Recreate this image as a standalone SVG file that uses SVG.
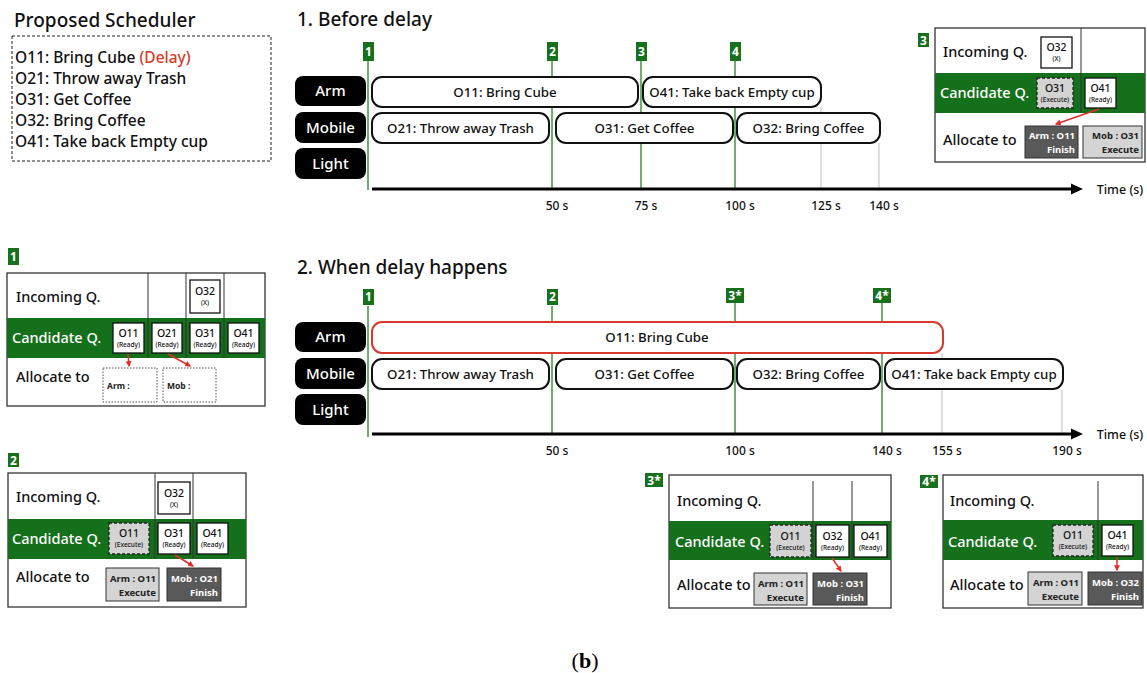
<svg xmlns="http://www.w3.org/2000/svg" width="1147" height="673" viewBox="0 0 1147 673">
<defs>
<style>
text{font-family:"Noto Sans","Liberation Sans",sans-serif;font-weight:500}
.t{font-size:19px;fill:#111}
.li{font-size:15.5px;fill:#111}
.lab rect{fill:#000}
.lab text{fill:#fff;font-size:15px;text-anchor:middle}
.task{fill:#fff;stroke:#111;stroke-width:2}
.delay{fill:#fff;stroke:#d9392c;stroke-width:2}
.tt{font-size:13.3px;text-anchor:middle;fill:#111}
.mk rect{fill:#16701c}
.mk text{fill:#fff;font-size:12px;font-weight:bold;text-anchor:middle}
.vl{stroke:#4b9a4b;stroke-width:1.6}
.gl{stroke:#bdbdbd;stroke-width:1}
.tick{font-size:12px;text-anchor:middle;fill:#111}
.pbox{fill:#fff;stroke:#333;stroke-width:1.3}
.band{fill:#15701b}
.ql{font-size:14.5px;fill:#111}
.qw{font-size:14.5px;fill:#fff}
.sep{stroke:#333;stroke-width:1}
.ob{fill:#fff;stroke:#111;stroke-width:1.3}
.oe{fill:#d3d3d3;stroke:#222;stroke-width:1.3;stroke-dasharray:3 2}
.on{font-size:10.5px;text-anchor:middle;fill:#111}
.os{font-size:6.5px;text-anchor:middle;fill:#111}
.dk{fill:#595959;stroke:#333;stroke-width:1}
.lt{fill:#d4d4d4;stroke:#333;stroke-width:1}
.aw{font-size:9.5px;font-weight:bold;text-anchor:end;fill:#fff}
.ad{font-size:9.5px;font-weight:bold;text-anchor:end;fill:#222}
.dots{fill:#fff;stroke:#555;stroke-width:1;stroke-dasharray:1.5 1.5}
.dl{font-size:8.5px;font-weight:bold;fill:#222}
.ra{stroke:#e0302a;stroke-width:1.5;fill:none;marker-end:url(#rh)}
.axis{stroke:#000;stroke-width:3}
</style>
<marker id="rh" viewBox="0 0 10 10" refX="8" refY="5" markerWidth="4" markerHeight="4" orient="auto">
<path d="M0,0 L10,5 L0,10 z" fill="#e0302a"/>
</marker>
</defs>
<rect width="1147" height="673" fill="#fff"/>

<!-- task list -->
<g id="scheduler">
<text class="t" x="14" y="27">Proposed Scheduler</text>
<rect x="12" y="36" width="259" height="125" fill="none" stroke="#222" stroke-width="1" stroke-dasharray="3 2"/>
<text class="li" x="15" y="63">O11: Bring Cube <tspan fill="#d9392c">(Delay)</tspan></text>
<text class="li" x="15" y="84">O21: Throw away Trash</text>
<text class="li" x="15" y="105">O31: Get Coffee</text>
<text class="li" x="15" y="126">O32: Bring Coffee</text>
<text class="li" x="15" y="147">O41: Take back Empty cup</text>
</g>

<!-- schedule 1: before delay -->
<g id="timeline-before">
<text class="t" x="297" y="26">1. Before delay</text>
<line class="gl" x1="821" y1="107" x2="821" y2="189"/>
<line class="gl" x1="879" y1="143" x2="879" y2="189"/>
<line class="vl" x1="368" y1="61" x2="368" y2="190"/>
<line class="vl" x1="552" y1="61" x2="552" y2="189"/>
<line class="vl" x1="641" y1="61" x2="641" y2="189"/>
<line class="vl" x1="735" y1="61" x2="735" y2="189"/>
<g class="mk">
<rect x="363" y="42" width="11" height="19"/><text x="368.5" y="56">1</text>
<rect x="547" y="42" width="11" height="19"/><text x="552.5" y="56">2</text>
<rect x="636" y="42" width="11" height="19"/><text x="641.5" y="56">3</text>
<rect x="730" y="42" width="11" height="19"/><text x="735.5" y="56">4</text>
</g>
<g class="lab">
<rect x="295" y="76" width="71" height="30" rx="8"/><text x="330.5" y="96">Arm</text>
<rect x="295" y="112" width="71" height="31" rx="8"/><text x="330.5" y="133">Mobile</text>
<rect x="295" y="148" width="71" height="31" rx="8"/><text x="330.5" y="169">Light</text>
</g>
<rect class="task" x="372" y="77" width="266" height="30" rx="10"/><text class="tt" x="505" y="97">O11: Bring Cube</text>
<rect class="task" x="643" y="77" width="178" height="30" rx="10"/><text class="tt" x="732" y="97">O41: Take back Empty cup</text>
<rect class="task" x="372" y="113" width="177" height="30" rx="10"/><text class="tt" x="460.5" y="133">O21: Throw away Trash</text>
<rect class="task" x="556" y="113" width="177" height="30" rx="10"/><text class="tt" x="644.5" y="133">O31: Get Coffee</text>
<rect class="task" x="737" y="113" width="143" height="30" rx="10"/><text class="tt" x="808.5" y="133">O32: Bring Coffee</text>
<line class="axis" x1="372" y1="189" x2="1073" y2="189"/>
<polygon points="1071,183.5 1083,189 1071,194.5" fill="#000"/>
<text class="tick" x="1120" y="194" style="font-size:12.5px">Time (s)</text>
<text class="tick" x="557" y="210">50 s</text>
<text class="tick" x="646" y="210">75 s</text>
<text class="tick" x="740" y="210">100 s</text>
<text class="tick" x="826" y="210">125 s</text>
<text class="tick" x="884" y="210">140 s</text>
</g>

<!-- schedule 2: when delay happens -->
<g id="timeline-delay">
<text class="t" x="297" y="274">2. When delay happens</text>
<line class="gl" x1="942" y1="353" x2="942" y2="434"/>
<line class="gl" x1="1062" y1="390" x2="1062" y2="434"/>
<line class="vl" x1="368" y1="306" x2="368" y2="437"/>
<line class="vl" x1="552" y1="306" x2="552" y2="434"/>
<line class="vl" x1="735" y1="302" x2="735" y2="434"/>
<line class="vl" x1="882" y1="302" x2="882" y2="434"/>
<g class="mk">
<rect x="363" y="289" width="11" height="16"/><text x="368.5" y="301">1</text>
<rect x="547" y="289" width="11" height="16"/><text x="552.5" y="301">2</text>
<rect x="726" y="288" width="18" height="15"/><text x="735" y="300">3*</text>
<rect x="873" y="288" width="18" height="15"/><text x="882" y="300">4*</text>
</g>
<g class="lab">
<rect x="295" y="322" width="71" height="30" rx="8"/><text x="330.5" y="342">Arm</text>
<rect x="295" y="358" width="71" height="31" rx="8"/><text x="330.5" y="379">Mobile</text>
<rect x="295" y="394" width="71" height="31" rx="8"/><text x="330.5" y="415">Light</text>
</g>
<rect class="delay" x="372" y="322" width="571" height="31" rx="10"/><text class="tt" x="657" y="342">O11: Bring Cube</text>
<rect class="task" x="372" y="359" width="177" height="30" rx="10"/><text class="tt" x="460.5" y="379">O21: Throw away Trash</text>
<rect class="task" x="556" y="359" width="177" height="30" rx="10"/><text class="tt" x="644.5" y="379">O31: Get Coffee</text>
<rect class="task" x="737" y="359" width="143" height="30" rx="10"/><text class="tt" x="808.5" y="379">O32: Bring Coffee</text>
<rect class="task" x="885" y="359" width="178" height="30" rx="10"/><text class="tt" x="974" y="379">O41: Take back Empty cup</text>
<line class="axis" x1="372" y1="434" x2="1073" y2="434"/>
<polygon points="1071,428.5 1083,434 1071,439.5" fill="#000"/>
<text class="tick" x="1120" y="439" style="font-size:12.5px">Time (s)</text>
<text class="tick" x="557" y="455">50 s</text>
<text class="tick" x="740" y="455">100 s</text>
<text class="tick" x="887" y="455">140 s</text>
<text class="tick" x="947" y="455">155 s</text>
<text class="tick" x="1067" y="455">190 s</text>
</g>

<!-- queue state at 3 (before delay) -->
<g id="state-3">
<g class="mk"><rect x="918" y="33" width="11" height="14"/><text x="923.5" y="45">3</text></g>
<rect class="pbox" x="935" y="28" width="210" height="134"/>
<rect class="band" x="935" y="73" width="210" height="40"/>
<line class="sep" x1="1081" y1="28" x2="1081" y2="113"/>
<text class="ql" x="943" y="57">Incoming Q.</text>
<rect class="ob" x="1041" y="37" width="31" height="31"/><text class="on" x="1056.5" y="51">O32</text><text class="os" x="1056.5" y="61">(X)</text>
<text class="qw" x="940" y="98">Candidate Q.</text>
<rect class="oe" x="1037" y="78" width="36" height="30"/><text class="on" x="1055" y="92">O31</text><text class="os" x="1055" y="102">(Execute)</text>
<rect class="ob" x="1085" y="78" width="31" height="30"/><text class="on" x="1100.5" y="92">O41</text><text class="os" x="1100.5" y="102">(Ready)</text>
<text class="ql" x="943" y="145">Allocate to</text>
<rect class="dk" x="1025" y="126" width="53" height="32"/><text class="aw" x="1075" y="139">Arm : O11</text><text class="aw" x="1075" y="153">Finish</text>
<rect class="lt" x="1083" y="126" width="59" height="32"/><text class="ad" x="1139" y="139">Mob : O31</text><text class="ad" x="1139" y="153">Execute</text>
</g>

<!-- queue state at 1 -->
<g id="state-1">
<g class="mk"><rect x="8" y="248" width="11" height="17"/><text x="13.5" y="261">1</text></g>
<rect class="pbox" x="7" y="273" width="258" height="133"/>
<rect class="band" x="7" y="318" width="258" height="40"/>
<line class="sep" x1="148" y1="273" x2="148" y2="358"/>
<line class="sep" x1="186" y1="273" x2="186" y2="358"/>
<line class="sep" x1="224" y1="273" x2="224" y2="358"/>
<text class="ql" x="16" y="302">Incoming Q.</text>
<rect class="ob" x="190" y="280" width="30" height="33"/><text class="on" x="205" y="295">O32</text><text class="os" x="205" y="305">(X)</text>
<text class="qw" x="12" y="343">Candidate Q.</text>
<rect class="ob" x="113" y="323" width="31" height="30"/><text class="on" x="128.5" y="337">O11</text><text class="os" x="128.5" y="347">(Ready)</text>
<rect class="ob" x="152" y="323" width="30" height="30"/><text class="on" x="167" y="337">O21</text><text class="os" x="167" y="347">(Ready)</text>
<rect class="ob" x="190" y="323" width="30" height="30"/><text class="on" x="205" y="337">O31</text><text class="os" x="205" y="347">(Ready)</text>
<rect class="ob" x="228" y="323" width="31" height="30"/><text class="on" x="243.5" y="337">O41</text><text class="os" x="243.5" y="347">(Ready)</text>
<text class="ql" x="16" y="382">Allocate to</text>
<rect class="dots" x="103" y="368" width="54" height="34"/><text class="dl" x="107" y="389">Arm :</text>
<rect class="dots" x="163" y="368" width="53" height="34"/><text class="dl" x="167" y="389">Mob :</text>
</g>

<!-- queue state at 2 -->
<g id="state-2">
<g class="mk"><rect x="8" y="453" width="11" height="14"/><text x="13.5" y="465">2</text></g>
<rect class="pbox" x="8" y="473" width="238" height="134"/>
<rect class="band" x="8" y="519" width="238" height="40"/>
<line class="sep" x1="155" y1="473" x2="155" y2="559"/>
<line class="sep" x1="193" y1="473" x2="193" y2="559"/>
<text class="ql" x="16" y="502">Incoming Q.</text>
<rect class="ob" x="158" y="482" width="32" height="32"/><text class="on" x="174" y="497">O32</text><text class="os" x="174" y="507">(X)</text>
<text class="qw" x="12" y="544">Candidate Q.</text>
<rect class="oe" x="109" y="523" width="40" height="31"/><text class="on" x="129" y="537">O11</text><text class="os" x="129" y="547">(Execute)</text>
<rect class="ob" x="158" y="523" width="32" height="31"/><text class="on" x="174" y="537">O31</text><text class="os" x="174" y="547">(Ready)</text>
<rect class="ob" x="197" y="523" width="31" height="31"/><text class="on" x="212.5" y="537">O41</text><text class="os" x="212.5" y="547">(Ready)</text>
<text class="ql" x="16" y="582">Allocate to</text>
<rect class="lt" x="106" y="568" width="53" height="33"/><text class="ad" x="156" y="582">Arm : O11</text><text class="ad" x="156" y="596">Execute</text>
<rect class="dk" x="167" y="568" width="54" height="33"/><text class="aw" x="218" y="582">Mob : O21</text><text class="aw" x="218" y="596">Finish</text>
</g>

<!-- queue state at 3* -->
<g id="state-3s">
<g class="mk"><rect x="645" y="473" width="18" height="14"/><text x="654" y="485">3*</text></g>
<rect class="pbox" x="669" y="475" width="222" height="133"/>
<rect class="band" x="669" y="521" width="222" height="39"/>
<line class="sep" x1="813" y1="481" x2="813" y2="560"/>
<line class="sep" x1="852" y1="481" x2="852" y2="560"/>
<text class="ql" x="677" y="506">Incoming Q.</text>
<text class="qw" x="675" y="547">Candidate Q.</text>
<rect class="oe" x="770" y="525" width="41" height="32"/><text class="on" x="790.5" y="540">O11</text><text class="os" x="790.5" y="550">(Execute)</text>
<rect class="ob" x="816" y="525" width="33" height="32"/><text class="on" x="832.5" y="540">O32</text><text class="os" x="832.5" y="550">(Ready)</text>
<rect class="ob" x="854" y="525" width="33" height="32"/><text class="on" x="870.5" y="540">O41</text><text class="os" x="870.5" y="550">(Ready)</text>
<text class="ql" x="677" y="590">Allocate to</text>
<rect class="lt" x="754" y="573" width="53" height="32"/><text class="ad" x="804" y="587">Arm : O11</text><text class="ad" x="804" y="601">Execute</text>
<rect class="dk" x="813" y="573" width="54" height="32"/><text class="aw" x="864" y="587">Mob : O31</text><text class="aw" x="864" y="601">Finish</text>
</g>

<!-- queue state at 4* -->
<g id="state-4s">
<g class="mk"><rect x="920" y="475" width="18" height="13"/><text x="929" y="486">4*</text></g>
<rect class="pbox" x="943" y="475" width="200" height="133"/>
<rect class="band" x="943" y="520" width="200" height="40"/>
<line class="sep" x1="1098" y1="481" x2="1098" y2="560"/>
<text class="ql" x="950" y="506">Incoming Q.</text>
<text class="qw" x="948" y="547">Candidate Q.</text>
<rect class="oe" x="1053" y="525" width="40" height="31"/><text class="on" x="1073" y="539">O11</text><text class="os" x="1073" y="549">(Execute)</text>
<rect class="ob" x="1102" y="525" width="31" height="31"/><text class="on" x="1117.5" y="539">O41</text><text class="os" x="1117.5" y="549">(Ready)</text>
<text class="ql" x="950" y="590">Allocate to</text>
<rect class="lt" x="1028" y="572" width="54" height="33"/><text class="ad" x="1079" y="586">Arm : O11</text><text class="ad" x="1079" y="600">Execute</text>
<rect class="dk" x="1088" y="572" width="54" height="33"/><text class="aw" x="1139" y="586">Mob : O32</text><text class="aw" x="1139" y="600">Finish</text>
</g>

<!-- allocation arrows -->
<g id="connectors">
<line class="ra" x1="1099" y1="109" x2="1056" y2="124"/>
<line class="ra" x1="128" y1="354" x2="129" y2="366"/>
<line class="ra" x1="168" y1="354" x2="190" y2="366"/>
<line class="ra" x1="175" y1="555" x2="193" y2="566"/>
<line class="ra" x1="832" y1="558" x2="841" y2="571"/>
<line class="ra" x1="1117" y1="557" x2="1117" y2="570"/>
</g>

<text x="585" y="668" text-anchor="middle" style="font-family:'Liberation Serif',serif;font-size:22px;font-weight:normal">(<tspan font-weight="bold">b</tspan>)</text>
</svg>
